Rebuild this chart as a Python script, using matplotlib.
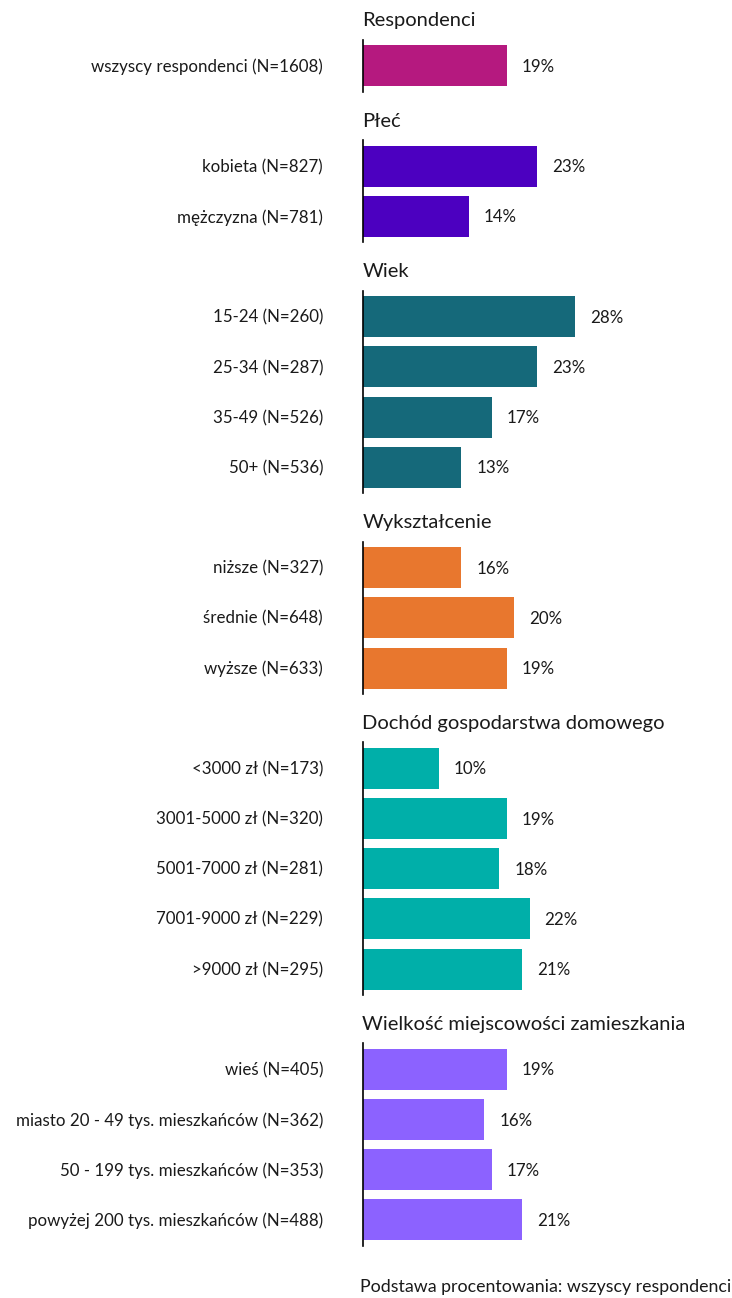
import matplotlib
matplotlib.use("Agg")
import matplotlib.pyplot as plt

# dane
groups = ["Respondenci", "Płeć", "Wiek", "Wykształcenie",
          "Dochód gospodarstwa domowego", "Wielkość miejscowości zamieszkania"]
labels = [
    ["wszyscy respondenci (N=1608)"],
    ["kobieta (N=827)", "mężczyzna (N=781)"],
    ["15-24 (N=260)", "25-34 (N=287)", "35-49 (N=526)", "50+ (N=536)"],
    ["niższe (N=327)", "średnie (N=648)", "wyższe (N=633)"],
    ["<3000 zł (N=173)", "3001-5000 zł (N=320)", "5001-7000 zł (N=281)",
     "7001-9000 zł (N=229)", ">9000 zł (N=295)"],
    ["wieś (N=405)", "miasto 20 - 49 tys. mieszkańców (N=362)",
     "50 - 199 tys. mieszkańców (N=353)", "powyżej 200 tys. mieszkańców (N=488)"],
]
# długości słupków (tak jak na oryginale)
bars = [
    [19],
    [23, 14],
    [28, 23, 17, 13],
    [13, 20, 19],
    [10, 19, 18, 22, 21],
    [19, 16, 17, 21],
]
# wartości w etykietach
value_labels = [
    ["19%"],
    ["23%", "14%"],
    ["28%", "23%", "17%", "13%"],
    ["16%", "20%", "19%"],
    ["10%", "19%", "18%", "22%", "21%"],
    ["19%", "16%", "17%", "21%"],
]
colors = ["#B5197F", "#4C00C0", "#15697A", "#E8772E", "#00AFA9", "#8C62FF"]
footer = "Podstawa procentowania: wszyscy respondenci"

plt.rcParams['font.family'] = ['Lato', 'DejaVu Sans']

W, H = 732, 1298
fig = plt.figure(figsize=(W / 100, H / 100), dpi=100)
ax = fig.add_axes([0, 0, 1, 1])

px = 7.57          # pikseli na 1%
x0 = 363           # położenie osi
step = 50.17       # odstęp między wierszami
y0 = 15.8          # środek pierwszego wiersza

ax.set_xlim(-x0 / px, (W - x0) / px)
ax.set_ylim(H, 0)
ax.axis('off')

slot = 0
for g, name in enumerate(groups):
    ax.text(-0.1, y0 + slot * step + 5, name, ha='left', va='center',
            fontsize=14.5, color='#1a1a1a')
    slot += 1
    first = slot
    for lab, v, vl in zip(labels[g], bars[g], value_labels[g]):
        yc = y0 + slot * step
        ax.barh(yc, v, height=41, color=colors[g], left=0)
        ax.text(v + 15 / px, yc + 1, vl, ha='left', va='center',
                fontsize=12.2, color='#1a1a1a')
        ax.text(-40 / px, yc + 1, lab, ha='right', va='center',
                fontsize=12.2, color='#1a1a1a')
        slot += 1
    last = slot - 1
    ax.plot([0, 0], [y0 + first * step - 26, y0 + last * step + 26],
            color='black', lw=1.2)

ax.text((W - x0 - 1) / px, 1287, footer, ha='right', va='center',
        fontsize=12.8, color='#1a1a1a')

fig.savefig("out.png", dpi=100)
